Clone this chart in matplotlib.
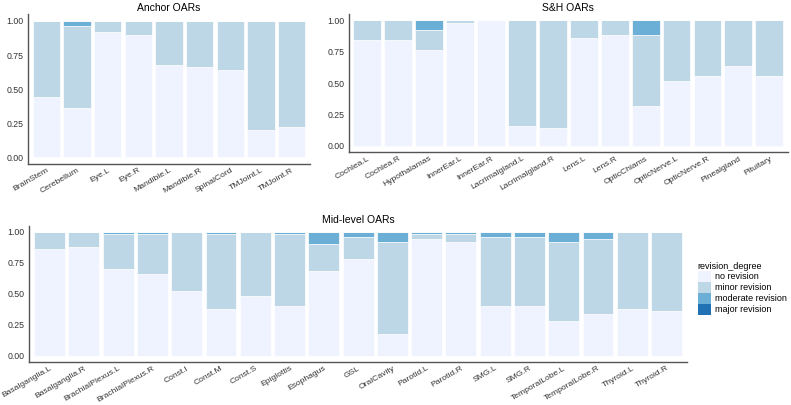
import matplotlib.pyplot as plt
from matplotlib.patches import Patch
import numpy as np

plt.rcParams["font.family"] = ["Liberation Sans", "DejaVu Sans"]

levels = ["no revision", "minor revision", "moderate revision", "major revision"]
colors = ["#EFF3FF", "#BDD7E7", "#6BAED6", "#2171B5"]

anchor_names = ["BrainStem", "Cerebellum", "Eye.L", "Eye.R", "Mandible.L", "Mandible.R",
                "SpinalCord", "TMJoint.L", "TMJoint.R"]
anchor_no = [0.44, 0.36, 0.92, 0.90, 0.68, 0.66, 0.64, 0.20, 0.22]
anchor_minor = [0.56, 0.60, 0.08, 0.10, 0.32, 0.34, 0.36, 0.80, 0.78]
anchor_mod = [0, 0.04, 0, 0, 0, 0, 0, 0, 0]
anchor_major = [0] * 9

sh_names = ["Cochlea.L", "Cochlea.R", "Hypothalamas", "InnerEar.L", "InnerEar.R",
            "Lacrimalgland.L", "Lacrimalgland.R", "Lens.L", "Lens.R", "OpticChiams",
            "OpticNerve.L", "OpticNerve.R", "Pinealgland", "Pituitary"]
sh_no = [0.84, 0.84, 0.76, 0.98, 1.00, 0.16, 0.14, 0.86, 0.88, 0.32, 0.52, 0.56, 0.64, 0.56]
sh_minor = [0.16, 0.16, 0.16, 0.02, 0, 0.84, 0.86, 0.14, 0.12, 0.56, 0.48, 0.44, 0.36, 0.44]
sh_mod = [0, 0, 0.08, 0, 0, 0, 0, 0, 0, 0.12, 0, 0, 0, 0]
sh_major = [0] * 14

mid_names = ["Basalganglia.L", "Basalganglia.R", "BrachialPlexus.L", "BrachialPlexus.R",
             "Const.I", "Const.M", "Const.S", "Epiglottis", "Esophagus", "GSL", "OralCavity",
             "Parotid.L", "Parotid.R", "SMG.L", "SMG.R", "TemporalLobe.L", "TemporalLobe.R",
             "Thyroid.L", "Thyroid.R"]
mid_no = [0.86, 0.88, 0.70, 0.66, 0.52, 0.38, 0.48, 0.40, 0.68, 0.78, 0.18,
          0.94, 0.92, 0.40, 0.40, 0.28, 0.34, 0.38, 0.36]
mid_minor = [0.14, 0.12, 0.28, 0.32, 0.48, 0.60, 0.52, 0.58, 0.22, 0.18, 0.74,
             0.04, 0.06, 0.56, 0.56, 0.64, 0.60, 0.62, 0.64]
mid_mod = [0, 0, 0.02, 0.02, 0, 0.02, 0, 0.02, 0.10, 0.04, 0.08,
           0.02, 0.02, 0.04, 0.04, 0.08, 0.06, 0, 0]
mid_major = [0] * 19


def draw(ax, names, parts, title):
    x = np.arange(len(names))
    bottom = np.zeros(len(names))
    for vals, c in zip(parts, colors):
        vals = np.array(vals)
        ax.bar(x, vals, bottom=bottom, width=0.9, color=c, edgecolor="white", linewidth=0.5)
        bottom += vals
    ax.set_xlim(-0.6, len(names) - 0.4)
    ax.set_ylim(-0.05, 1.05)
    ax.set_yticks([0, 0.25, 0.5, 0.75, 1.0])
    ax.set_yticklabels(["0.00", "0.25", "0.50", "0.75", "1.00"])
    ax.set_xticks(x)
    ax.set_xticklabels(names, rotation=30, ha="right", rotation_mode="anchor")
    ax.tick_params(axis="y", labelsize=6.3, colors="#333333", length=0, pad=3)
    ax.tick_params(axis="x", labelsize=6.1, colors="#333333", length=0, pad=2)
    for s in ["top", "right"]:
        ax.spines[s].set_visible(False)
    for s in ["left", "bottom"]:
        ax.spines[s].set_color("#555555")
        ax.spines[s].set_linewidth(1.0)
    ax.set_title(title, fontsize=7.5, pad=2)


fig = plt.figure(figsize=(7.91, 4.05), dpi=100)
ax1 = fig.add_axes([0.0354, 0.595, 0.3565, 0.370])
ax2 = fig.add_axes([0.441, 0.624, 0.555, 0.3415])
ax3 = fig.add_axes([0.0367, 0.106, 0.832, 0.337])

draw(ax1, anchor_names, [anchor_no, anchor_minor, anchor_mod, anchor_major], "Anchor OARs")
draw(ax2, sh_names, [sh_no, sh_minor, sh_mod, sh_major], "S&H OARs")
draw(ax3, mid_names, [mid_no, mid_minor, mid_mod, mid_major], "Mid-level OARs")

handles = [Patch(facecolor=c, edgecolor="none", label=l) for c, l in zip(colors, levels)]
fig.legend(handles=handles, title="revision_degree", loc="upper left",
           bbox_to_anchor=(0.882, 0.354), frameon=False, fontsize=6.5,
           title_fontsize=6.5, handlelength=1.5, handleheight=1.5,
           handletextpad=0.45, labelspacing=0.0, borderpad=0, borderaxespad=0,
           alignment="left")

fig.savefig("out.png", dpi=100)
